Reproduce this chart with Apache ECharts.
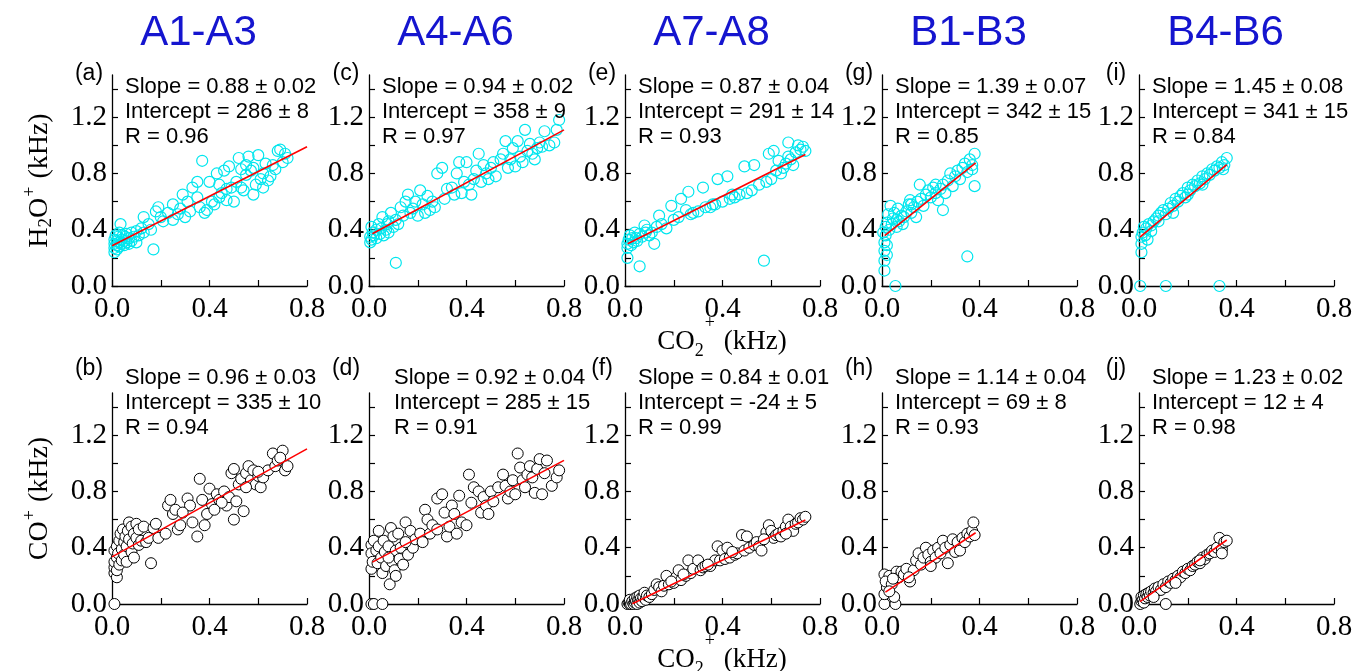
<!DOCTYPE html>
<html>
<head>
<meta charset="utf-8">
<script src="https://cdn.jsdelivr.net/npm/echarts@6/dist/echarts.min.js"></script>
<style>
  html, body { margin: 0; padding: 0; background: #fff; }
  #chart { width: 1354px; height: 671px; }
</style>
</head>
<body>
<div id="chart"></div>
<script>
// ---- column groups and panel tags ----
const columnTitles = ['A1-A3', 'A4-A6', 'A7-A8', 'B1-B3', 'B4-B6'];
const topTags = ['(a)', '(c)', '(e)', '(g)', '(i)'];
const bottomTags = ['(b)', '(d)', '(f)', '(h)', '(j)'];

// ---- axis ticks (kHz) ----
const xTicks = [0, 0.2, 0.4, 0.6, 0.8];
const xTickLabels = [0, 0.4, 0.8];
const yTicks = [0, 0.2, 0.4, 0.6, 0.8, 1.0, 1.2, 1.4];
const yTickLabels = [0, 0.4, 0.8, 1.2];

// ---- H2O+ vs CO2+ (kHz) ----
const h2oA1A3 = [[0.01,0.24],[0.01,0.27],[0.01,0.30],[0.01,0.33],[0.015,0.36],[0.02,0.26],[0.02,0.29],[0.02,0.32],[0.025,0.35],[0.03,0.28],[0.03,0.31],[0.03,0.38],[0.035,0.44],[0.04,0.30],[0.04,0.33],[0.045,0.36],[0.05,0.29],[0.05,0.32],[0.055,0.35],[0.06,0.31],[0.06,0.37],[0.07,0.30],[0.07,0.34],[0.08,0.32],[0.08,0.38],[0.09,0.35],[0.10,0.31],[0.10,0.39],[0.11,0.36],[0.12,0.41],[0.13,0.38],[0.13,0.49],[0.15,0.44],[0.16,0.40],[0.17,0.26],[0.18,0.53],[0.19,0.56],[0.20,0.49],[0.21,0.46],[0.23,0.52],[0.25,0.58],[0.25,0.47],[0.27,0.51],[0.29,0.65],[0.30,0.49],[0.32,0.53],[0.33,0.70],[0.35,0.74],[0.36,0.56],[0.37,0.89],[0.38,0.52],[0.39,0.54],[0.40,0.74],[0.41,0.60],[0.42,0.58],[0.43,0.80],[0.44,0.63],[0.45,0.66],[0.46,0.82],[0.47,0.61],[0.48,0.85],[0.49,0.70],[0.50,0.60],[0.51,0.74],[0.52,0.91],[0.53,0.70],[0.54,0.68],[0.55,0.79],[0.56,0.92],[0.57,0.82],[0.58,0.65],[0.59,0.72],[0.60,0.93],[0.61,0.76],[0.62,0.80],[0.63,0.87],[0.64,0.75],[0.65,0.78],[0.67,0.83],[0.68,0.96],[0.69,0.97],[0.70,0.88],[0.71,0.94],[0.72,0.91],[0.55,0.86],[0.58,0.84],[0.53,0.83],[0.47,0.69],[0.44,0.72],[0.62,0.70],[0.66,0.86],[0.35,0.63],[0.31,0.60],[0.28,0.55]];
const h2oA4A6 = [[0.005,0.31],[0.005,0.35],[0.01,0.42],[0.01,0.33],[0.015,0.38],[0.02,0.36],[0.03,0.40],[0.03,0.34],[0.04,0.44],[0.045,0.37],[0.05,0.41],[0.055,0.49],[0.06,0.36],[0.07,0.40],[0.075,0.44],[0.08,0.38],[0.09,0.52],[0.10,0.42],[0.11,0.165],[0.11,0.47],[0.12,0.44],[0.13,0.56],[0.14,0.50],[0.15,0.60],[0.16,0.65],[0.17,0.52],[0.18,0.55],[0.19,0.60],[0.20,0.50],[0.21,0.68],[0.22,0.58],[0.23,0.52],[0.24,0.64],[0.26,0.60],[0.27,0.56],[0.28,0.80],[0.30,0.84],[0.31,0.62],[0.32,0.69],[0.34,0.70],[0.35,0.65],[0.36,0.80],[0.37,0.88],[0.38,0.66],[0.39,0.74],[0.40,0.88],[0.41,0.72],[0.42,0.65],[0.44,0.82],[0.45,0.94],[0.46,0.74],[0.47,0.86],[0.48,0.80],[0.49,0.76],[0.51,0.88],[0.52,0.78],[0.54,0.90],[0.55,0.94],[0.56,1.03],[0.57,0.84],[0.58,0.90],[0.59,0.98],[0.60,0.85],[0.61,1.03],[0.62,0.92],[0.63,0.88],[0.64,1.11],[0.65,0.96],[0.66,1.01],[0.67,0.94],[0.68,0.90],[0.69,0.98],[0.70,1.02],[0.71,0.99],[0.72,1.10],[0.74,1.00],[0.76,1.02],[0.77,1.11],[0.78,1.18],[0.50,0.84],[0.43,0.76],[0.25,0.54],[0.08,0.46]];
const h2oA7A8 = [[0.01,0.20],[0.01,0.30],[0.01,0.27],[0.015,0.33],[0.02,0.36],[0.025,0.29],[0.03,0.34],[0.035,0.31],[0.04,0.38],[0.045,0.34],[0.05,0.32],[0.06,0.14],[0.06,0.37],[0.07,0.35],[0.08,0.43],[0.085,0.38],[0.09,0.40],[0.10,0.36],[0.11,0.38],[0.12,0.30],[0.13,0.42],[0.14,0.50],[0.15,0.44],[0.17,0.41],[0.19,0.57],[0.20,0.47],[0.22,0.49],[0.23,0.62],[0.25,0.54],[0.26,0.67],[0.28,0.52],[0.30,0.53],[0.32,0.70],[0.33,0.56],[0.36,0.58],[0.37,0.58],[0.38,0.76],[0.40,0.60],[0.42,0.78],[0.43,0.62],[0.45,0.63],[0.47,0.65],[0.49,0.85],[0.50,0.66],[0.52,0.68],[0.53,0.86],[0.55,0.72],[0.57,0.18],[0.58,0.74],[0.59,0.94],[0.60,0.76],[0.61,0.96],[0.62,0.82],[0.63,0.89],[0.64,0.80],[0.65,0.84],[0.66,0.87],[0.67,0.92],[0.67,1.02],[0.68,0.90],[0.69,0.86],[0.70,0.95],[0.71,1.00],[0.72,0.97],[0.73,0.99],[0.74,0.96],[0.35,0.56],[0.27,0.51],[0.44,0.65]];
const h2oB1B3 = [[0.01,0.11],[0.01,0.18],[0.01,0.25],[0.01,0.31],[0.005,0.38],[0.015,0.36],[0.015,0.42],[0.02,0.29],[0.02,0.22],[0.055,0.00],[0.02,0.45],[0.025,0.51],[0.03,0.40],[0.035,0.57],[0.04,0.44],[0.045,0.48],[0.05,0.52],[0.06,0.42],[0.065,0.55],[0.07,0.46],[0.08,0.50],[0.085,0.44],[0.09,0.49],[0.10,0.53],[0.11,0.58],[0.115,0.61],[0.12,0.52],[0.13,0.56],[0.14,0.49],[0.145,0.60],[0.155,0.72],[0.16,0.62],[0.17,0.57],[0.18,0.65],[0.19,0.68],[0.20,0.63],[0.21,0.70],[0.22,0.66],[0.23,0.61],[0.24,0.69],[0.25,0.54],[0.25,0.72],[0.26,0.66],[0.27,0.75],[0.28,0.80],[0.29,0.71],[0.30,0.78],[0.31,0.82],[0.32,0.76],[0.33,0.84],[0.34,0.87],[0.35,0.21],[0.35,0.81],[0.36,0.90],[0.37,0.86],[0.38,0.71],[0.38,0.94],[0.37,0.83],[0.22,0.72],[0.12,0.58],[0.06,0.47]];
const h2oB4B6 = [[0.005,0.00],[0.11,0.00],[0.33,0.00],[0.01,0.24],[0.01,0.30],[0.01,0.35],[0.015,0.38],[0.02,0.42],[0.025,0.36],[0.03,0.41],[0.04,0.44],[0.05,0.43],[0.06,0.46],[0.07,0.48],[0.08,0.50],[0.09,0.52],[0.10,0.54],[0.11,0.51],[0.12,0.55],[0.13,0.59],[0.14,0.57],[0.15,0.62],[0.16,0.60],[0.17,0.64],[0.18,0.66],[0.19,0.63],[0.20,0.70],[0.21,0.68],[0.22,0.72],[0.23,0.71],[0.24,0.75],[0.25,0.73],[0.26,0.78],[0.27,0.76],[0.28,0.80],[0.29,0.79],[0.30,0.83],[0.31,0.82],[0.32,0.85],[0.33,0.84],[0.34,0.88],[0.35,0.86],[0.36,0.91],[0.345,0.83],[0.05,0.39],[0.035,0.33],[0.08,0.46],[0.14,0.52],[0.20,0.65],[0.26,0.72]];

// ---- CO+ vs CO2+ (kHz) ----
const coA1A3 = [[0.01,0.00],[0.01,0.22],[0.01,0.26],[0.01,0.30],[0.01,0.38],[0.02,0.19],[0.02,0.24],[0.02,0.33],[0.02,0.41],[0.025,0.36],[0.03,0.28],[0.03,0.45],[0.035,0.50],[0.04,0.31],[0.04,0.39],[0.045,0.53],[0.05,0.35],[0.05,0.44],[0.055,0.48],[0.06,0.30],[0.06,0.41],[0.065,0.52],[0.07,0.58],[0.07,0.46],[0.08,0.37],[0.08,0.55],[0.085,0.43],[0.09,0.50],[0.09,0.33],[0.10,0.57],[0.10,0.47],[0.11,0.42],[0.11,0.53],[0.12,0.45],[0.13,0.55],[0.14,0.44],[0.15,0.47],[0.16,0.29],[0.17,0.54],[0.18,0.57],[0.19,0.47],[0.22,0.50],[0.23,0.70],[0.24,0.74],[0.25,0.64],[0.26,0.67],[0.27,0.53],[0.28,0.56],[0.31,0.75],[0.32,0.70],[0.33,0.58],[0.35,0.48],[0.36,0.89],[0.37,0.74],[0.38,0.56],[0.39,0.64],[0.40,0.82],[0.41,0.71],[0.43,0.78],[0.44,0.74],[0.46,0.80],[0.47,0.70],[0.48,0.76],[0.49,0.93],[0.50,0.96],[0.50,0.60],[0.51,0.73],[0.52,0.85],[0.53,0.89],[0.54,0.66],[0.55,0.93],[0.56,0.98],[0.57,0.88],[0.58,0.95],[0.59,0.85],[0.60,0.91],[0.61,0.83],[0.62,0.90],[0.64,0.95],[0.66,1.07],[0.67,0.98],[0.68,1.02],[0.70,1.09],[0.71,0.95],[0.72,0.98],[0.55,0.83],[0.45,0.72],[0.42,0.67],[0.29,0.65],[0.60,0.94],[0.69,1.04]];
const coA4A6 = [[0.01,0.00],[0.02,0.00],[0.055,0.00],[0.01,0.42],[0.01,0.36],[0.01,0.25],[0.015,0.30],[0.02,0.45],[0.03,0.38],[0.035,0.29],[0.04,0.52],[0.04,0.41],[0.05,0.33],[0.055,0.22],[0.06,0.45],[0.065,0.37],[0.07,0.27],[0.08,0.41],[0.085,0.14],[0.09,0.54],[0.095,0.30],[0.10,0.48],[0.105,0.24],[0.11,0.38],[0.12,0.50],[0.125,0.32],[0.13,0.40],[0.14,0.28],[0.15,0.58],[0.16,0.35],[0.17,0.52],[0.18,0.40],[0.19,0.46],[0.21,0.50],[0.22,0.44],[0.23,0.67],[0.24,0.60],[0.25,0.50],[0.26,0.56],[0.28,0.53],[0.28,0.75],[0.30,0.78],[0.31,0.65],[0.32,0.48],[0.33,0.55],[0.34,0.70],[0.35,0.64],[0.36,0.50],[0.37,0.77],[0.38,0.58],[0.40,0.56],[0.41,0.92],[0.42,0.72],[0.43,0.83],[0.45,0.80],[0.46,0.65],[0.47,0.76],[0.48,0.70],[0.49,0.64],[0.50,0.80],[0.51,0.73],[0.53,0.83],[0.55,0.92],[0.56,0.84],[0.57,0.75],[0.58,0.80],[0.59,0.88],[0.60,0.78],[0.61,1.07],[0.62,0.97],[0.63,0.88],[0.64,0.83],[0.65,0.92],[0.66,0.98],[0.67,0.90],[0.68,0.79],[0.69,0.96],[0.70,1.03],[0.71,0.78],[0.72,0.93],[0.73,1.02],[0.75,0.84],[0.77,0.90],[0.78,0.95],[0.11,0.20],[0.08,0.33],[0.15,0.44]];
const coA7A8 = [[0.01,0.00],[0.015,0.01],[0.02,0.00],[0.02,0.03],[0.025,0.00],[0.03,0.02],[0.035,0.00],[0.04,0.01],[0.04,0.04],[0.045,0.02],[0.05,0.00],[0.05,0.05],[0.055,0.03],[0.06,0.01],[0.06,0.06],[0.065,0.04],[0.07,0.02],[0.075,0.05],[0.08,0.08],[0.085,0.03],[0.09,0.06],[0.10,0.05],[0.11,0.07],[0.12,0.10],[0.13,0.14],[0.14,0.12],[0.15,0.09],[0.16,0.13],[0.17,0.20],[0.18,0.14],[0.20,0.15],[0.21,0.19],[0.22,0.24],[0.23,0.17],[0.25,0.20],[0.26,0.31],[0.27,0.22],[0.28,0.25],[0.30,0.31],[0.31,0.24],[0.32,0.26],[0.33,0.27],[0.35,0.27],[0.37,0.31],[0.38,0.41],[0.39,0.31],[0.40,0.38],[0.41,0.32],[0.42,0.40],[0.43,0.33],[0.45,0.35],[0.46,0.36],[0.48,0.49],[0.49,0.38],[0.50,0.48],[0.51,0.40],[0.53,0.42],[0.54,0.44],[0.55,0.41],[0.56,0.38],[0.58,0.51],[0.59,0.56],[0.60,0.52],[0.61,0.47],[0.62,0.49],[0.63,0.50],[0.64,0.48],[0.65,0.52],[0.66,0.55],[0.67,0.60],[0.68,0.55],[0.69,0.52],[0.70,0.57],[0.71,0.58],[0.72,0.61],[0.73,0.60],[0.74,0.62],[0.66,0.50],[0.57,0.46],[0.44,0.37],[0.34,0.28],[0.24,0.21],[0.19,0.16]];
const coB1B3 = [[0.01,0.00],[0.055,0.00],[0.01,0.07],[0.02,0.12],[0.01,0.21],[0.03,0.20],[0.015,0.16],[0.04,0.14],[0.05,0.05],[0.06,0.23],[0.07,0.19],[0.08,0.23],[0.09,0.21],[0.10,0.25],[0.115,0.16],[0.13,0.24],[0.14,0.31],[0.15,0.36],[0.16,0.28],[0.17,0.33],[0.18,0.40],[0.19,0.35],[0.20,0.30],[0.21,0.38],[0.22,0.33],[0.23,0.40],[0.24,0.36],[0.25,0.45],[0.26,0.40],[0.27,0.29],[0.28,0.42],[0.29,0.46],[0.30,0.37],[0.31,0.44],[0.32,0.38],[0.33,0.47],[0.34,0.44],[0.35,0.50],[0.36,0.48],[0.37,0.52],[0.375,0.58],[0.38,0.49],[0.03,0.09],[0.045,0.18],[0.11,0.19],[0.20,0.27]];
const coB4B6 = [[0.005,0.00],[0.01,0.02],[0.01,0.05],[0.015,0.03],[0.02,0.06],[0.02,0.01],[0.025,0.04],[0.03,0.07],[0.035,0.05],[0.04,0.08],[0.045,0.06],[0.05,0.09],[0.06,0.08],[0.065,0.11],[0.07,0.09],[0.08,0.12],[0.09,0.10],[0.10,0.14],[0.11,0.00],[0.11,0.12],[0.12,0.16],[0.13,0.15],[0.14,0.18],[0.15,0.17],[0.16,0.20],[0.17,0.19],[0.18,0.23],[0.19,0.22],[0.20,0.25],[0.21,0.24],[0.22,0.27],[0.23,0.28],[0.24,0.30],[0.25,0.29],[0.26,0.33],[0.27,0.32],[0.28,0.35],[0.29,0.36],[0.30,0.38],[0.31,0.37],[0.32,0.40],[0.33,0.47],[0.34,0.39],[0.35,0.44],[0.36,0.45],[0.34,0.36],[0.06,0.05],[0.15,0.15],[0.25,0.31]];

// ---- linear fits: slope, intercept (Hz), R, and x-span of the fit line ----
const h2oSlope = [0.88, 0.94, 0.87, 1.39, 1.45];
const h2oSlopeErr = [0.02, 0.02, 0.04, 0.07, 0.08];
const h2oIntercept = [286, 358, 291, 342, 341];
const h2oInterceptErr = [8, 9, 14, 15, 15];
const h2oR = [0.96, 0.97, 0.93, 0.85, 0.84];
const h2oFitSpan = [[0, 0.8], [0.014, 0.8], [0.011, 0.74], [0.011, 0.384], [0.004, 0.36]];

const coSlope = [0.96, 0.92, 0.84, 1.14, 1.23];
const coSlopeErr = [0.03, 0.04, 0.01, 0.04, 0.02];
const coIntercept = [335, 285, -24, 69, 12];
const coInterceptErr = [10, 15, 5, 8, 4];
const coR = [0.94, 0.91, 0.99, 0.93, 0.98];
const coFitSpan = [[0, 0.8], [0.014, 0.8], [0.03, 0.74], [0.014, 0.384], [0.004, 0.36]];

const h2oSets = [h2oA1A3, h2oA4A6, h2oA7A8, h2oB1B3, h2oB4B6];
const coSets = [coA1A3, coA4A6, coA7A8, coB1B3, coB4B6];

// ---- layout (px) ----
const COL_LEFT = [112, 369, 625, 882, 1139];
const ROW_TOP = [75, 393];
const PLOT_W = 195, PLOT_H = 211;
const CYAN = '#00e6ee';
const SANS = '"Liberation Sans", Arial, sans-serif';
const SERIF = '"Liberation Serif", "Times New Roman", serif';

const rows = [
  { sets: h2oSets, slope: h2oSlope, slopeErr: h2oSlopeErr, icpt: h2oIntercept, icptErr: h2oInterceptErr, r: h2oR, span: h2oFitSpan, tags: topTags, hollow: true },
  { sets: coSets, slope: coSlope, slopeErr: coSlopeErr, icpt: coIntercept, icptErr: coInterceptErr, r: coR, span: coFitSpan, tags: bottomTags, hollow: false }
];

const grids = [], xAxes = [], yAxes = [], series = [], graphics = [];

rows.forEach((row, ri) => {
  for (let ci = 0; ci < 5; ci++) {
    const idx = ri * 5 + ci;
    const left = COL_LEFT[ci], top = ROW_TOP[ri];
    grids.push({ left, top, width: PLOT_W, height: PLOT_H, outerBoundsMode: 'none' });
    const axisLine = { show: true, onZero: false, lineStyle: { color: '#000', width: 1.3 } };
    const axisTickStyle = { lineStyle: { color: '#000', width: 1.2 } };
    xAxes.push({
      type: 'value', gridIndex: idx, min: 0, max: 0.8, interval: 0.2,
      axisLine,
      axisTick: Object.assign({ show: true, inside: true, length: 6, customValues: xTicks }, axisTickStyle),
      axisLabel: { customValues: xTickLabels, formatter: v => v.toFixed(1), margin: 9,
                   fontFamily: SERIF, fontSize: 29, color: '#000' },
      splitLine: { show: false }
    });
    yAxes.push({
      type: 'value', gridIndex: idx, min: 0, max: 1.5,
      axisLine,
      axisTick: Object.assign({ show: true, inside: true, length: 6, customValues: yTicks }, axisTickStyle),
      axisLabel: { customValues: yTickLabels, formatter: v => v.toFixed(1), margin: 5,
                   fontFamily: SERIF, fontSize: 29, color: '#000' },
      splitLine: { show: false }
    });
    series.push({
      type: 'scatter', xAxisIndex: idx, yAxisIndex: idx, data: row.sets[ci],
      symbol: 'circle', symbolSize: 11, clip: false, z: 2,
      itemStyle: row.hollow
        ? { color: 'rgba(0,0,0,0)', borderColor: CYAN, borderWidth: 1.2, opacity: 1 }
        : { color: '#fff', borderColor: '#000', borderWidth: 1, opacity: 1 },
      emphasis: { disabled: true }
    });
    const s = row.slope[ci], b = row.icpt[ci] / 1000;
    const [x0, x1] = row.span[ci];
    series.push({
      type: 'line', xAxisIndex: idx, yAxisIndex: idx,
      data: [[x0, s * x0 + b], [x1, s * x1 + b]],
      symbol: 'none', z: 5, silent: true,
      lineStyle: { color: '#ff0000', width: 1.6 }
    });

    // panel tag
    graphics.push({
      type: 'text', x: left - 23, y: ri === 0 ? top - 1 : top - 24,
      style: { text: row.tags[ci], font: '23px ' + SANS, fill: '#000', textAlign: 'center', textVerticalAlign: 'middle' }
    });
    // fit statistics
    const statLines = [
      'Slope = ' + s.toFixed(2) + ' \u00b1 ' + row.slopeErr[ci].toFixed(2),
      'Intercept = ' + row.icpt[ci] + ' \u00b1 ' + row.icptErr[ci],
      'R = ' + row.r[ci].toFixed(2)
    ];
    const statDx = (ri === 1 && ci === 1) ? 25 : 13;
    graphics.push({
      type: 'text', x: left + statDx, y: ri === 0 ? top - 1 : top - 27.5, z: 10,
      style: { text: statLines.join('\n'), font: '22px ' + SANS, fill: '#000', lineHeight: 25,
               textAlign: 'left', textVerticalAlign: 'top' }
    });
  }
});

// column titles
columnTitles.forEach((t, ci) => {
  graphics.push({
    type: 'text', x: COL_LEFT[ci] + PLOT_W / 2 - 11, y: 33,
    style: { text: t, font: '42px ' + SANS, fill: '#1515cf', textAlign: 'center', textVerticalAlign: 'middle' }
  });
});

// axis titles with sub/superscripts
const yRich = {
  m:   { fontFamily: SERIF, fontSize: 28, lineHeight: 28, padding: [10, 0, 0, 0], verticalAlign: 'top', fill: '#000' },
  sub: { fontFamily: SERIF, fontSize: 19, lineHeight: 19, padding: [21, 0, 0, 0], verticalAlign: 'top', fill: '#000' },
  sup: { fontFamily: SERIF, fontSize: 18, lineHeight: 18, padding: [5, 1, 0, 1], verticalAlign: 'top', fill: '#000' }
};
const xRich = {
  m:   { fontFamily: SERIF, fontSize: 27, lineHeight: 27, padding: [16, 0, 0, 0], verticalAlign: 'top', fill: '#000' },
  sub: { fontFamily: SERIF, fontSize: 18, lineHeight: 18, padding: [30, 0, 0, 0], verticalAlign: 'top', fill: '#000' },
  sup: { fontFamily: SERIF, fontSize: 18, lineHeight: 18, padding: [2, 2, 0, 1], verticalAlign: 'top', fill: '#000' }
};
graphics.push({
  type: 'text', x: 30, y: (ROW_TOP[0] + ROW_TOP[0] + PLOT_H) / 2, rotation: Math.PI / 2,
  style: { text: '{m|H}{sub|2}{m|O}{sup|+}{m| (kHz)}', rich: yRich, textAlign: 'center', textVerticalAlign: 'middle' }
});
graphics.push({
  type: 'text', x: 30, y: (ROW_TOP[1] + ROW_TOP[1] + PLOT_H) / 2, rotation: Math.PI / 2,
  style: { text: '{m|CO}{sup|+}{m| (kHz)}', rich: yRich, textAlign: 'center', textVerticalAlign: 'middle' }
});
[326, 644].forEach(y => {
  graphics.push({
    type: 'text', x: 722, y,
    style: { text: '{m|CO}{sub|2}{sup|+}{m| (kHz)}', rich: xRich, textAlign: 'center', textVerticalAlign: 'middle' }
  });
});

const chart = echarts.init(document.getElementById('chart'), null, { renderer: 'canvas' });
chart.setOption({
  animation: false,
  backgroundColor: '#fff',
  grid: grids,
  xAxis: xAxes,
  yAxis: yAxes,
  series,
  graphic: { elements: graphics }
});
</script>
</body>
</html>
